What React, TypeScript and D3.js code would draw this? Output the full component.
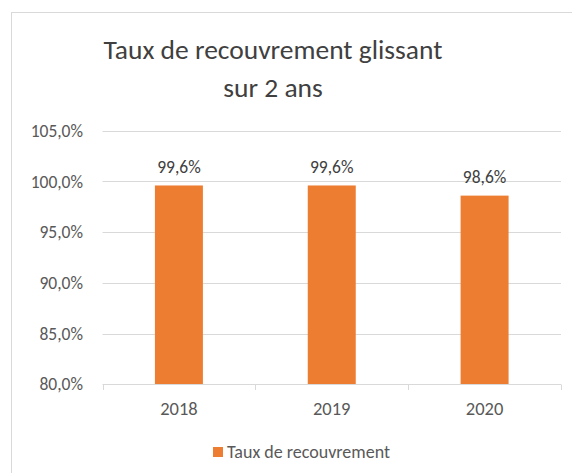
import React from "react";
import * as d3 from "d3";

const categories = ["2018", "2019", "2020"];
const values = [99.6, 99.6, 98.6];
const valueLabels = ["99,6%", "99,6%", "98,6%"];
const yTicks = [80, 85, 90, 95, 100, 105];
const seriesName = "Taux de recouvrement";
const titleLines = ["Taux de recouvrement glissant", "sur 2 ans"];

const W = 572;
const H = 473;
const FONT = "Carlito, Calibri, Lato, sans-serif";

export default function App() {
  const x = d3.scaleBand().domain(categories).range([102.5, 561]).paddingInner(0.686).paddingOuter(0.343);
  const y = d3.scaleLinear().domain([80, 105]).range([384.3, 130.7]);
  const fmt = (v: number) => v.toFixed(1).replace(".", ",") + "%";
  const catEdges = d3.range(categories.length + 1).map((i) => 102.5 + i * ((561 - 102.5) / categories.length));

  return (
    <svg width={W} height={H} style={{ position: "absolute", left: 0, top: 0 }} fontFamily={FONT}>
      <rect x={0} y={0} width={W} height={H} fill="#ffffff" />
      <rect x={11.5} y={12.5} width={W + 10} height={H + 10} fill="#ffffff" stroke="#D9D9D9" strokeWidth={1} />
      {titleLines.map((t, i) => (
        <text key={i} x={273} y={58.5 + i * 38} textAnchor="middle" fontSize={27.5} fill="#404040">{t}</text>
      ))}
      {yTicks.map((t) => (
        <g key={t}>
          {t !== 80 && (
            <line x1={102.5} x2={561} y1={Math.round(y(t)) + 0.5} y2={Math.round(y(t)) + 0.5} stroke="#D9D9D9" strokeWidth={1} />
          )}
          <text x={83} y={y(t)} dy="0.35em" textAnchor="end" fontSize={17.5} fill="#595959">{fmt(t)}</text>
        </g>
      ))}
      {categories.map((c, i) => (
        <rect key={c} x={x(c)} y={y(values[i])} width={x.bandwidth()} height={y(80) - y(values[i])} fill="#ED7D31" />
      ))}
      {categories.map((c, i) => (
        <text key={c} x={(x(c) as number) + x.bandwidth() / 2} y={y(values[i]) - 19} dy="0.35em" textAnchor="middle" fontSize={17.5} fill="#404040">{valueLabels[i]}</text>
      ))}
      <line x1={102.5} x2={561} y1={384.5} y2={384.5} stroke="#D9D9D9" strokeWidth={1} />
      {catEdges.map((e, i) => (
        <line key={i} x1={Math.round(e) + 0.5} x2={Math.round(e) + 0.5} y1={384.5} y2={390} stroke="#D9D9D9" strokeWidth={1} />
      ))}
      {categories.map((c) => (
        <text key={c} x={(x(c) as number) + x.bandwidth() / 2} y={409} dy="0.35em" textAnchor="middle" fontSize={18.5} fill="#595959">{c}</text>
      ))}
      <rect x={213} y={447} width={10} height={10} fill="#ED7D31" />
      <text x={227} y={452} dy="0.35em" fontSize={18} fill="#595959">{seriesName}</text>
    </svg>
  );
}
